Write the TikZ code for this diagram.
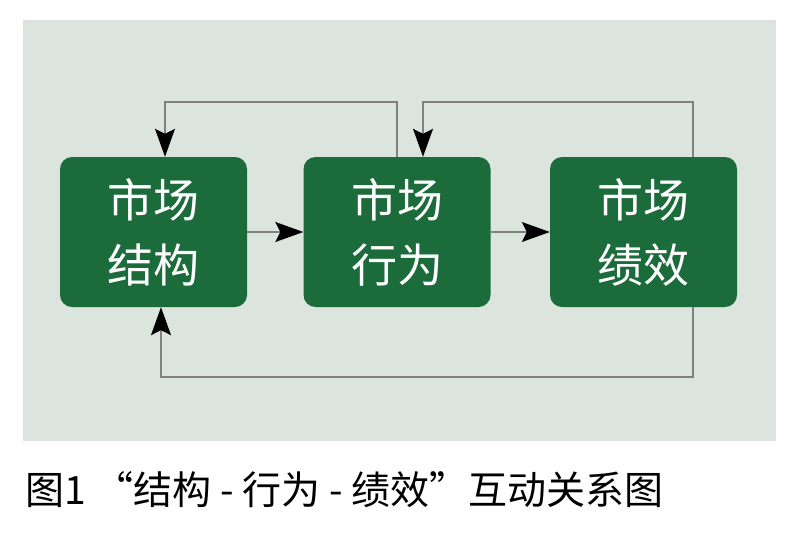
\documentclass[tikz,border=0pt]{standalone}
\usepackage{fontspec}
\setmainfont{Noto Sans CJK SC}
\usetikzlibrary{arrows.meta}
\definecolor{panel}{HTML}{DCE5DD}
\definecolor{boxg}{HTML}{1B6B3B}
\definecolor{linkg}{HTML}{7F807F}
\begin{document}
\begin{tikzpicture}[x=1pt,y=-1pt,
  box/.style={fill=boxg, rounded corners=12pt, minimum width=187pt, minimum height=150pt,
    inner sep=0pt, text=white, align=center, font=\fontsize{46}{65}\selectfont},
  link/.style={draw=linkg, line width=1.3pt},
  tip/.style={-{Stealth[length=28pt,width=20pt,inset=5pt,color=black]}}]
\useasboundingbox (0,0) rectangle (800,536);
\fill[white] (0,0) rectangle (800,536);
\fill[panel] (23,20) rectangle (776,441);
\node[box] (b1) at (153.5,232) {市场\\结构};
\node[box] (b2) at (397,232) {市场\\行为};
\node[box] (b3) at (643.5,232) {市场\\绩效};
\coordinate (ty) at (0,102);
\coordinate (by) at (0,377);
\draw[link,tip] (b1.east) -- (b2.west);
\draw[link,tip] (b2.east) -- (b3.west);
\draw[link,tip] (b2.north) -- (b2.north |- ty) -| ([xshift=11.5pt]b1.north);
\draw[link,tip] ([xshift=49.5pt]b3.north) -- ([xshift=49.5pt]b3.north |- ty) -| ([xshift=26pt]b2.north);
\draw[link,tip] ([xshift=49.5pt]b3.south) -- ([xshift=49.5pt]b3.south |- by) -| ([xshift=7.5pt]b1.south);
\node[anchor=west, inner sep=0pt, font=\fontsize{39}{44}\selectfont, text=black] (cap) at (25,490) {图1\ “结构 - 行为 - 绩效”互动关系图};
\end{tikzpicture}
\end{document}
